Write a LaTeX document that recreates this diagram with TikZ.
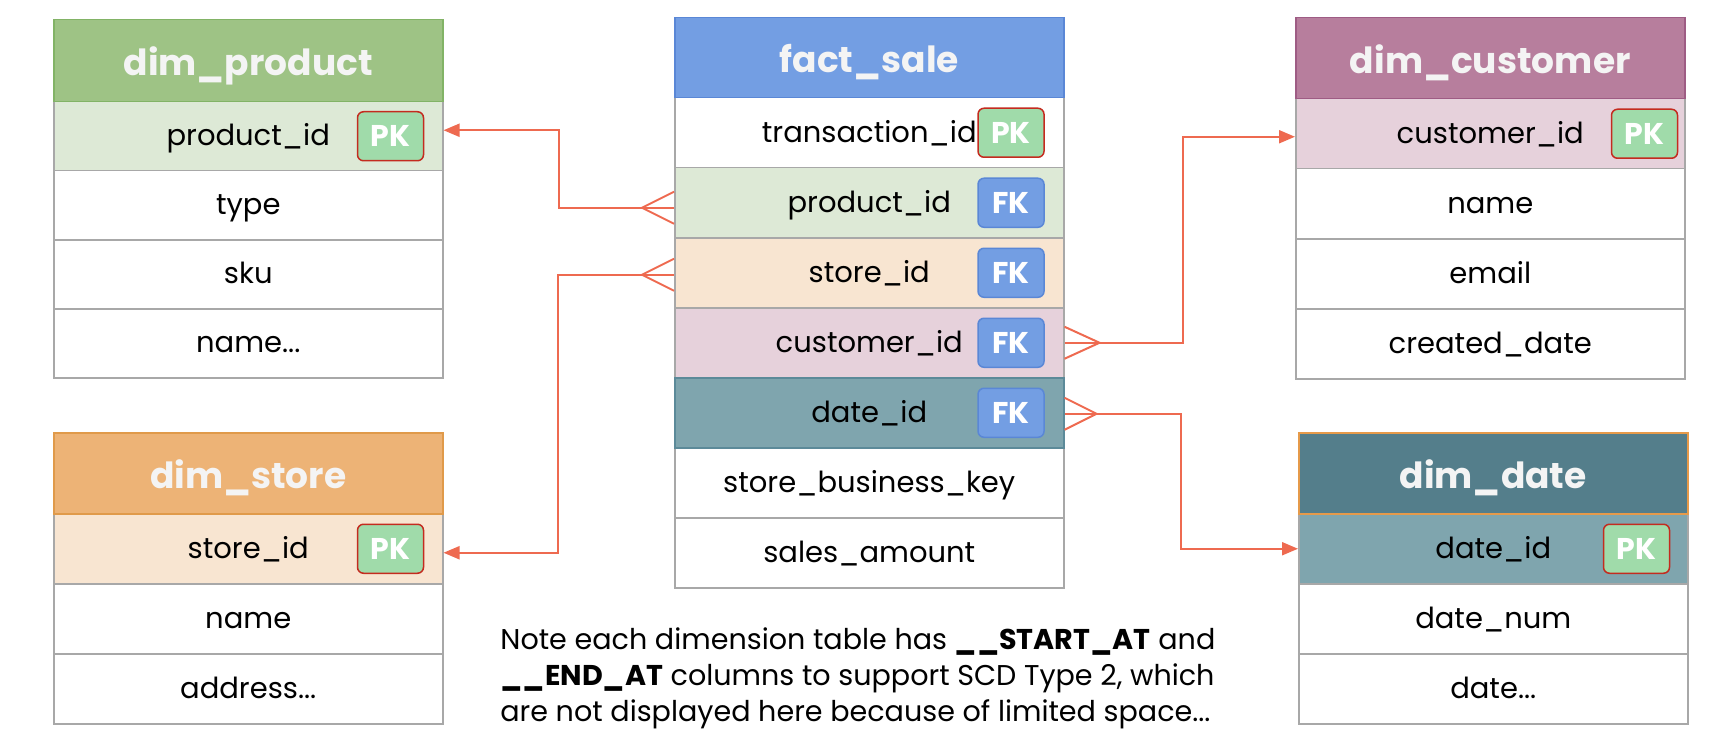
\documentclass[tikz,border=0pt]{standalone}
\usepackage{fontspec}
\setmainfont{Poppins}
\usetikzlibrary{arrows.meta}
\definecolor{rowline}{HTML}{A8A8A8}
\definecolor{hdrtext}{HTML}{F4F4F4}
\definecolor{prodhdr}{HTML}{9EC385}
\definecolor{prodline}{HTML}{82B366}
\definecolor{prodrow}{HTML}{DDE9D6}
\definecolor{facthdr}{HTML}{739EE3}
\definecolor{factline}{HTML}{5A87D6}
\definecolor{custhdr}{HTML}{B77E9D}
\definecolor{custline}{HTML}{9E5C84}
\definecolor{custrow}{HTML}{E6D1DB}
\definecolor{storehdr}{HTML}{EDB376}
\definecolor{storeline}{HTML}{E09A4A}
\definecolor{storerow}{HTML}{F8E5D1}
\definecolor{datehdr}{HTML}{547E8B}
\definecolor{dateline}{HTML}{E69A4A}
\definecolor{daterow}{HTML}{7FA5AE}
\definecolor{daterowline}{HTML}{5C8A99}
\definecolor{pkfill}{HTML}{A0DBAA}
\definecolor{pkline}{HTML}{C42B1F}
\definecolor{fkfill}{HTML}{739EE3}
\definecolor{fkline}{HTML}{5A87D6}
\definecolor{relc}{HTML}{EE6A50}
\tikzset{
  tbl/.style={draw=rowline, line width=0.75pt, minimum width=194.5pt, inner sep=0pt, anchor=north west,
    text height=11pt, text depth=1.5pt, font=\fontsize{14.5}{16}\selectfont},
  hdr/.style={tbl, text=hdrtext, text height=16pt, text depth=1pt, font=\fontsize{18}{20}\selectfont\bfseries},
  badge/.style={rounded corners=3pt, minimum width=33pt, minimum height=24.5pt, inner sep=0pt, line width=0.75pt, text=white, font=\fontsize{15}{16}\selectfont\bfseries},
  pk/.style={badge, fill=pkfill, draw=pkline},
  fk/.style={badge, fill=fkfill, draw=fkline},
  rel/.style={draw=relc, line width=1pt},
  arr/.style={rel, -{Triangle[length=8pt,width=6.5pt]}},
}
\begin{document}
\begin{tikzpicture}[x=0.5pt, y=-0.5pt]
\useasboundingbox (0,0) rectangle (1732,754);

% ---- dim_product
\begin{scope}[every node/.append style={minimum height=34.5pt}]
\node[tbl, fill=prodrow] (p1) at (53,101) {product\_id};
\node[tbl] (p2) at (53,170) {type};
\node[tbl] (p3) at (53,239) {sku};
\node[tbl] (p4) at (53,308) {name...};
\end{scope}
\node[hdr, fill=prodhdr, draw=prodline, minimum height=41pt] (ph) at (53,19) {dim\_product};
\node[pk] (ppk) at ([xshift=-26.5pt]p1.east) {PK};

% ---- dim_store
\begin{scope}[every node/.append style={minimum height=35pt}]
\node[tbl, fill=storerow] (s1) at (53,513) {store\_id};
\node[tbl] (s2) at (53,583) {name};
\node[tbl] (s3) at (53,653) {address...};
\end{scope}
\node[hdr, fill=storehdr, draw=storeline, minimum height=40.5pt] (sh) at (53,432) {dim\_store};
\node[pk] (spk) at ([xshift=-26.5pt]s1.east) {PK};

% ---- fact_sale
\begin{scope}[every node/.append style={minimum height=35pt}]
\node[tbl] (f1) at (674,97) {transaction\_id};
\node[tbl, fill=prodrow] (f2) at (674,167) {product\_id};
\node[tbl, fill=storerow] (f3) at (674,237) {store\_id};
\node[tbl, fill=custrow] (f4) at (674,307) {customer\_id};
\node[tbl] (f6) at (674,447) {store\_business\_key};
\node[tbl] (f7) at (674,517) {sales\_amount};
\node[tbl, fill=daterow, draw=daterowline] (f5) at (674,377) {date\_id};
\end{scope}
\node[hdr, fill=facthdr, draw=factline, minimum height=40pt] (fh) at (674,17) {fact\_sale};
\node[pk] (fpk) at ([xshift=-26.75pt]f1.east) {PK};
\node[fk] (ffk2) at ([xshift=-26.75pt]f2.east) {FK};
\node[fk] (ffk3) at ([xshift=-26.75pt]f3.east) {FK};
\node[fk] (ffk4) at ([xshift=-26.75pt]f4.east) {FK};
\node[fk] (ffk5) at ([xshift=-26.75pt]f5.east) {FK};

% ---- dim_customer
\begin{scope}[every node/.append style={minimum height=35pt}]
\node[tbl, fill=custrow] (c1) at (1295,98) {customer\_id};
\node[tbl] (c2) at (1295,168) {name};
\node[tbl] (c3) at (1295,238) {email};
\node[tbl] (c4) at (1295,308) {created\_date};
\end{scope}
\node[hdr, fill=custhdr, draw=custline, minimum height=40.5pt] (ch) at (1295,17) {dim\_customer};
\node[pk] (cpk) at ([xshift=-20.5pt]c1.east) {PK};

% ---- dim_date
\begin{scope}[every node/.append style={minimum height=35pt}]
\node[tbl, fill=daterow] (d1) at (1298,513) {date\_id};
\node[tbl] (d2) at (1298,583) {date\_num};
\node[tbl] (d3) at (1298,653) {date...};
\end{scope}
\node[hdr, fill=datehdr, draw=dateline, minimum height=40.5pt] (dh) at (1298,432) {dim\_date};
\node[pk] (dpk) at ([xshift=-26pt]d1.east) {PK};

% ---- relationships
% product
\draw[arr] ([yshift=-2.5pt]f2.west) -- ++(-57.5pt,0) |- ([yshift=3pt]p1.east);
\draw[rel] ([yshift=5.5pt]f2.west) -- ([xshift=-16pt,yshift=-2.5pt]f2.west) -- ([yshift=-10.5pt]f2.west);
% store
\draw[arr] ([yshift=-1pt]f3.west) -- ++(-58pt,0) |- ([yshift=-2pt]s1.east);
\draw[rel] ([yshift=7pt]f3.west) -- ([xshift=-16pt,yshift=-1pt]f3.west) -- ([yshift=-9pt]f3.west);
% customer
\draw[arr] (f4.east) -- ++(59pt,0) |- ([yshift=-1.5pt]c1.west);
\draw[rel] ([yshift=8pt]f4.east) -- ([xshift=17.5pt]f4.east) -- ([yshift=-8pt]f4.east);
% date
\draw[arr] ([yshift=-0.5pt]f5.east) -- ++(58pt,0) |- (d1.west);
\draw[rel] ([yshift=7.5pt]f5.east) -- ([xshift=16pt,yshift=-0.5pt]f5.east) -- ([yshift=-8.5pt]f5.east);

% ---- note
\node[anchor=north west, align=left, inner sep=0pt, font=\fontsize{14.3}{18.2}\selectfont] (note) at (500,627)
  {Note each dimension table has \textbf{\_\_START\_AT} and\\
   \textbf{\_\_END\_AT} columns to support SCD Type 2, which\\
   are not displayed here because of limited space...};
\end{tikzpicture}
\end{document}
